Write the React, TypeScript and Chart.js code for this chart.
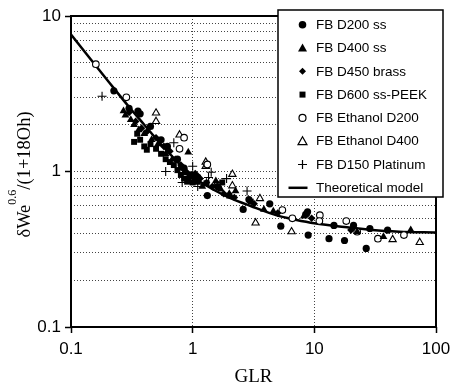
import { useEffect, useRef } from 'react';
import { Chart, registerables } from 'chart.js';

Chart.register(...registerables);

// ---------- data (GLR, dimensionless drop size) ----------
const D200_SS: [number, number][] = [
  [0.225, 3.3], [0.3, 2.55], [0.355, 2.45], [0.37, 2.35], [0.45, 1.95], [0.55, 1.6], [0.62, 1.45],
  [0.75, 1.2], [0.85, 1.05], [0.95, 0.95], [1.05, 0.88], [1.1, 0.92], [1.32, 0.7], [1.6, 0.8],
  [2.6, 0.57], [2.9, 0.66], [4.3, 0.62], [5.3, 0.445], [8.5, 0.53], [8.8, 0.55], [8.9, 0.39],
  [13.2, 0.37], [14.5, 0.45], [17.7, 0.36], [21, 0.45], [26.7, 0.32], [28.6, 0.43], [40, 0.42],
];
const D400_SS: [number, number][] = [
  [0.27, 2.45], [0.28, 2.3], [0.31, 2.15], [0.33, 2.0], [0.36, 1.85], [0.4, 1.75], [0.46, 1.6],
  [0.52, 1.5], [0.6, 1.3], [0.68, 1.2], [0.78, 1.05], [0.85, 0.98], [0.92, 0.9], [0.92, 1.33],
  [1.0, 0.95], [1.1, 0.85], [1.2, 0.8], [1.55, 0.87], [1.7, 0.77], [2.0, 0.72], [2.25, 0.75],
  [3.85, 0.57], [4.6, 0.556], [8.2, 0.516], [8.6, 0.537], [22.5, 0.41], [37, 0.38], [62, 0.42],
];
const D450_BRASS: [number, number][] = [
  [0.3, 2.4], [0.34, 2.1], [0.38, 1.9], [0.42, 1.8], [0.5, 1.65], [0.58, 1.45], [0.65, 1.35],
  [0.72, 1.2], [0.8, 1.1], [0.88, 1.0], [0.95, 0.92], [1.05, 0.97], [1.15, 0.9], [1.3, 0.85],
  [1.45, 0.8], [1.8, 0.72], [2.2, 0.68], [3.2, 0.62], [5.0, 0.54], [9.5, 0.5], [20, 0.42],
];
const D600_PEEK: [number, number][] = [
  [0.33, 1.55], [0.35, 1.75], [0.37, 1.6], [0.4, 1.45], [0.42, 1.38], [0.45, 1.5], [0.5, 1.4],
  [0.55, 1.3], [0.6, 1.2], [0.65, 1.15], [0.7, 1.1], [0.75, 1.02], [0.8, 0.95], [0.85, 0.9],
  [0.9, 0.86], [1.0, 0.85], [1.05, 0.9], [1.1, 0.88], [1.3, 0.84], [1.75, 0.85], [2.0, 0.7], [3.0, 0.64],
];
const ETHANOL_D200: [number, number][] = [
  [0.16, 4.9], [0.285, 3.0], [0.78, 1.4], [0.85, 1.65], [1.32, 1.11], [1.6, 0.82], [5.46, 0.565],
  [6.6, 0.5], [11.1, 0.524], [11.0, 0.48], [18.3, 0.48], [22.5, 0.41], [33.3, 0.37], [54.5, 0.39],
];
const ETHANOL_D400: [number, number][] = [
  [0.5, 2.38], [0.5, 2.1], [0.78, 1.72], [1.28, 1.15], [1.28, 1.08], [2.12, 0.96], [2.12, 0.81],
  [3.57, 0.67], [3.29, 0.467], [6.5, 0.41], [44, 0.365], [73.5, 0.35],
];
const D150_PLATINUM: [number, number][] = [
  [0.18, 3.05], [0.6, 1.0], [0.7, 1.53], [0.82, 0.85], [1.0, 1.08], [1.1, 0.8], [1.35, 0.915],
  [1.42, 0.99], [1.9, 0.9], [2.8, 0.75],
];
const MODEL: [number, number][] = [
  [0.1, 7.6], [0.15, 5.1], [0.2, 3.85], [0.3, 2.6], [0.4, 2.0], [0.5, 1.63], [0.7, 1.22], [1, 0.93],
  [1.5, 0.76], [2, 0.68], [3, 0.6], [5, 0.52], [7, 0.49], [10, 0.465], [20, 0.435], [30, 0.42],
  [50, 0.41], [100, 0.405],
];

const LABELS = [
  'FB D200 ss', 'FB D400 ss', 'FB D450 brass', 'FB D600 ss-PEEK',
  'FB Ethanol D200', 'FB Ethanol D400', 'FB D150 Platinum', 'Theoretical model',
];

const X_TICKS = [0.1, 1, 10, 100];
const X_GRID = [1, 10];
const Y_TICKS = [
  0.1, 0.2, 0.3, 0.4, 0.5, 0.6, 0.7, 0.8, 0.9,
  1, 2, 3, 4, 5, 6, 7, 8, 9, 10,
];
const MAJOR = [0.1, 1, 10, 100];
const X_TITLE = 'GLR';

const SANS = '"Liberation Sans", Arial, sans-serif';
const SERIF = '"Liberation Serif", "Times New Roman", serif';
const GRID_COLOR = '#444';

const pts = (arr: [number, number][]) => arr.map(([x, y]) => ({ x, y }));
const isIn = (list: number[], v: number) => list.some((m) => Math.abs(Math.log10(v) - Math.log10(m)) < 1e-6);

type Marker = 'circle' | 'triangle' | 'diamond' | 'square' | 'ocircle' | 'otriangle' | 'plus' | 'line';
const LEGEND_MARKERS: Marker[] = ['circle', 'triangle', 'diamond', 'square', 'ocircle', 'otriangle', 'plus', 'line'];

function drawMarker(ctx: CanvasRenderingContext2D, m: Marker, x: number, y: number) {
  ctx.save();
  ctx.fillStyle = '#000';
  ctx.strokeStyle = '#000';
  ctx.lineWidth = 1.2;
  ctx.beginPath();
  switch (m) {
    case 'circle':
      ctx.arc(x, y, 3.8, 0, Math.PI * 2);
      ctx.fill();
      break;
    case 'triangle':
      ctx.moveTo(x, y - 4.5); ctx.lineTo(x - 4.5, y + 3.5); ctx.lineTo(x + 4.5, y + 3.5); ctx.closePath();
      ctx.fill();
      break;
    case 'diamond':
      ctx.moveTo(x, y - 3.5); ctx.lineTo(x + 3.5, y); ctx.lineTo(x, y + 3.5); ctx.lineTo(x - 3.5, y); ctx.closePath();
      ctx.fill();
      break;
    case 'square':
      ctx.rect(x - 3, y - 3, 6, 6);
      ctx.fill();
      break;
    case 'ocircle':
      ctx.arc(x, y, 3.5, 0, Math.PI * 2);
      ctx.stroke();
      break;
    case 'otriangle':
      ctx.moveTo(x, y - 4.5); ctx.lineTo(x - 4.5, y + 3.5); ctx.lineTo(x + 4.5, y + 3.5); ctx.closePath();
      ctx.stroke();
      break;
    case 'plus':
      ctx.moveTo(x - 4.5, y); ctx.lineTo(x + 4.5, y); ctx.moveTo(x, y - 4.5); ctx.lineTo(x, y + 4.5);
      ctx.stroke();
      break;
    case 'line':
      ctx.lineWidth = 2.5;
      ctx.moveTo(x - 14, y); ctx.lineTo(x + 5, y);
      ctx.stroke();
      break;
  }
  ctx.restore();
}

const decorPlugin = {
  id: 'decor',
  beforeDatasetsDraw(chart: any) {
    const { ctx, chartArea } = chart;
    ctx.save();
    ctx.strokeStyle = '#000';
    ctx.lineWidth = 2;
    ctx.strokeRect(chartArea.left, chartArea.top, chartArea.right - chartArea.left, chartArea.bottom - chartArea.top);
    ctx.restore();
  },
  afterDraw(chart: any) {
    const { ctx, chartArea } = chart;
    // legend box
    ctx.save();
    const bx = 278, by = 10, bw = 165, bh = 187;
    ctx.fillStyle = '#fff';
    ctx.fillRect(bx, by, bw, bh);
    ctx.strokeStyle = '#000';
    ctx.lineWidth = 1.5;
    ctx.strokeRect(bx, by, bw, bh);
    ctx.font = `13.5px ${SANS}`;
    ctx.fillStyle = '#000';
    ctx.textBaseline = 'middle';
    ctx.textAlign = 'left';
    LABELS.forEach((lab, i) => {
      const y = 24.7 + i * 23.3;
      drawMarker(ctx, LEGEND_MARKERS[i], 302.5, y);
      ctx.fillStyle = '#000';
      ctx.fillText(lab, 316, y + 0.5);
    });
    ctx.restore();

    // x title
    ctx.save();
    ctx.font = `19px ${SERIF}`;
    ctx.fillStyle = '#000';
    ctx.textAlign = 'center';
    ctx.textBaseline = 'alphabetic';
    ctx.fillText(X_TITLE, (chartArea.left + chartArea.right) / 2, 382);
    ctx.restore();

    // y title with superscript
    ctx.save();
    const big = `18.5px ${SERIF}`;
    const small = `12px ${SERIF}`;
    const p1 = 'δWe', sup = '0.6', p2 = '/(1+18Oh)';
    ctx.font = big;
    const w1 = ctx.measureText(p1).width;
    const w2 = ctx.measureText(p2).width;
    ctx.font = small;
    const ws = ctx.measureText(sup).width;
    const total = w1 + ws + w2;
    ctx.translate(30, (chartArea.top + chartArea.bottom) / 2 + 3);
    ctx.rotate(-Math.PI / 2);
    ctx.fillStyle = '#000';
    ctx.textAlign = 'left';
    ctx.textBaseline = 'alphabetic';
    let u = -total / 2;
    ctx.font = big;
    ctx.fillText(p1, u, 0);
    u += w1;
    ctx.font = small;
    ctx.fillText(sup, u, -14);
    u += ws;
    ctx.font = big;
    ctx.fillText(p2, u, 0);
    ctx.restore();
  },
};

export default function App() {
  const ref = useRef<HTMLCanvasElement | null>(null);

  useEffect(() => {
    if (!ref.current) return;
    const black = '#000';
    const chart = new Chart(ref.current, {
      type: 'scatter',
      data: {
        datasets: [
          { label: LABELS[0], data: pts(D200_SS), pointStyle: 'circle', pointRadius: 3.6, backgroundColor: black, borderColor: black, borderWidth: 0 },
          { label: LABELS[1], data: pts(D400_SS), pointStyle: 'triangle', pointRadius: 4.5, backgroundColor: black, borderColor: black, borderWidth: 0 },
          { label: LABELS[2], data: pts(D450_BRASS), pointStyle: 'rectRot', pointRadius: 3.8, backgroundColor: black, borderColor: black, borderWidth: 0 },
          { label: LABELS[3], data: pts(D600_PEEK), pointStyle: 'rect', pointRadius: 4.2, backgroundColor: black, borderColor: black, borderWidth: 0 },
          { label: LABELS[4], data: pts(ETHANOL_D200), pointStyle: 'circle', pointRadius: 3.3, backgroundColor: '#fff', borderColor: black, borderWidth: 1.1 },
          { label: LABELS[5], data: pts(ETHANOL_D400), pointStyle: 'triangle', pointRadius: 4.2, backgroundColor: '#fff', borderColor: black, borderWidth: 1.1 },
          { label: LABELS[6], data: pts(D150_PLATINUM), pointStyle: 'cross', pointRadius: 4.5, backgroundColor: black, borderColor: black, borderWidth: 1.1 },
          {
            label: LABELS[7], data: pts(MODEL), showLine: true, pointRadius: 0, borderColor: black,
            borderWidth: 2.5, cubicInterpolationMode: 'monotone', fill: false,
          } as any,
        ],
      },
      options: {
        animation: false,
        responsive: false,
        maintainAspectRatio: false,
        events: [],
        layout: { padding: { top: 16, right: 16, left: 0, bottom: 0 } },
        plugins: { legend: { display: false }, tooltip: { enabled: false }, title: { display: false } },
        scales: {
          x: {
            type: 'logarithmic',
            min: 0.1,
            max: 100,
            afterBuildTicks: (scale: any) => {
              scale.ticks = X_TICKS.map((v) => ({ value: v, major: isIn(MAJOR, v) }));
            },
            afterFit: (scale: any) => {
              scale.height = 60;
              scale.paddingLeft = 0;
              scale.paddingRight = 0;
            },
            border: { display: false, dash: [1, 2] },
            grid: {
              color: (c: any) => {
                const v = c.tick ? c.tick.value : X_TICKS[c.index];
                return v !== undefined && isIn(X_GRID, v) ? GRID_COLOR : 'rgba(0,0,0,0)';
              },
              lineWidth: 1,
              tickLength: 6,
              tickWidth: 1.5,
              tickColor: '#000',
              tickBorderDash: [],
            },
            ticks: {
              autoSkip: false,
              maxRotation: 0,
              padding: 6,
              color: '#000',
              font: { family: SANS, size: 17 },
              callback: (v: any) => (isIn(MAJOR, Number(v)) ? String(v) : ''),
            },
          },
          y: {
            type: 'logarithmic',
            min: 0.1,
            max: 10,
            afterBuildTicks: (scale: any) => {
              scale.ticks = Y_TICKS.map((v) => ({ value: v, major: isIn(MAJOR, v) }));
            },
            afterFit: (scale: any) => {
              scale.width = 71;
              scale.paddingTop = 0;
              scale.paddingBottom = 0;
            },
            border: { display: false, dash: [1, 2] },
            grid: {
              color: GRID_COLOR,
              lineWidth: 1,
              tickLength: 6,
              tickWidth: 1.5,
              tickColor: (c: any) => {
                const v = c.tick ? c.tick.value : Y_TICKS[c.index];
                return v !== undefined && isIn(MAJOR, v) ? '#000' : 'rgba(0,0,0,0)';
              },
              tickBorderDash: [],
            },
            ticks: {
              autoSkip: false,
              padding: 4,
              color: '#000',
              font: { family: SANS, size: 17 },
              callback: (v: any) => (isIn(MAJOR, Number(v)) ? String(v) : ''),
            },
          },
        },
      } as any,
      plugins: [decorPlugin],
    });
    return () => chart.destroy();
  }, []);

  return (
    <div style={{ position: 'absolute', left: 0, top: 0, width: 452, height: 387, background: '#fff' }}>
      <canvas ref={ref} width={452} height={387} style={{ width: 452, height: 387, display: 'block' }} />
    </div>
  );
}
